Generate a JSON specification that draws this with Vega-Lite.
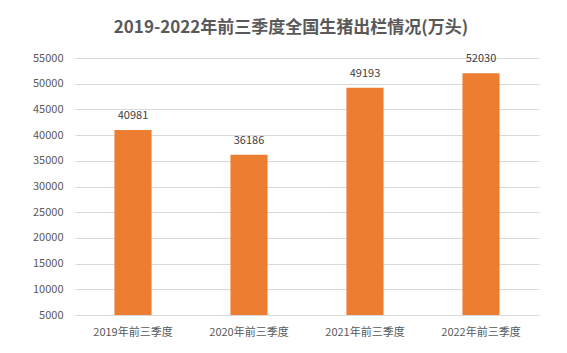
{
  "$schema": "https://vega.github.io/schema/vega-lite/v6.json",
  "autosize": {"type": "none"},
  "width": 464,
  "height": 257,
  "padding": {"left": 75, "top": 58, "right": 28, "bottom": 38},
  "background": "white",
  "title": {
    "text": "2019-2022年前三季度全国生猪出栏情况(万头)",
    "font": "Noto Sans CJK SC",
    "fontSize": 17,
    "fontWeight": "bold",
    "color": "#595959",
    "anchor": "middle",
    "dx": -16,
    "offset": 15
  },
  "data": {
    "values": [
      {"period": "2019年前三季度", "value": 40981},
      {"period": "2020年前三季度", "value": 36186},
      {"period": "2021年前三季度", "value": 49193},
      {"period": "2022年前三季度", "value": 52030}
    ]
  },
  "config": {
    "view": {"stroke": null},
    "font": "Noto Sans CJK SC"
  },
  "encoding": {
    "x": {
      "field": "period",
      "type": "nominal",
      "sort": null,
      "scale": {"paddingInner": 0.68, "paddingOuter": 0.34},
      "axis": {
        "title": null,
        "labelAngle": 0,
        "domain": false,
        "ticks": false,
        "labelFontSize": 11,
        "labelColor": "#595959",
        "labelPadding": 11
      }
    },
    "y": {
      "field": "value",
      "type": "quantitative",
      "scale": {"domain": [5000, 55000], "zero": false, "clamp": true},
      "axis": {
        "title": null,
        "values": [5000, 10000, 15000, 20000, 25000, 30000, 35000, 40000, 45000, 50000, 55000],
        "format": "d",
        "domain": false,
        "ticks": false,
        "labelFontSize": 11,
        "labelColor": "#595959",
        "labelPadding": 12,
        "gridColor": "#d9d9d9",
        "gridWidth": 1
      }
    }
  },
  "layer": [
    {
      "mark": {"type": "bar", "color": "#ED7D31"}
    },
    {
      "mark": {"type": "text", "dy": -14, "fontSize": 11, "color": "#404040"},
      "encoding": {"text": {"field": "value", "type": "quantitative", "format": "d"}}
    }
  ]
}
